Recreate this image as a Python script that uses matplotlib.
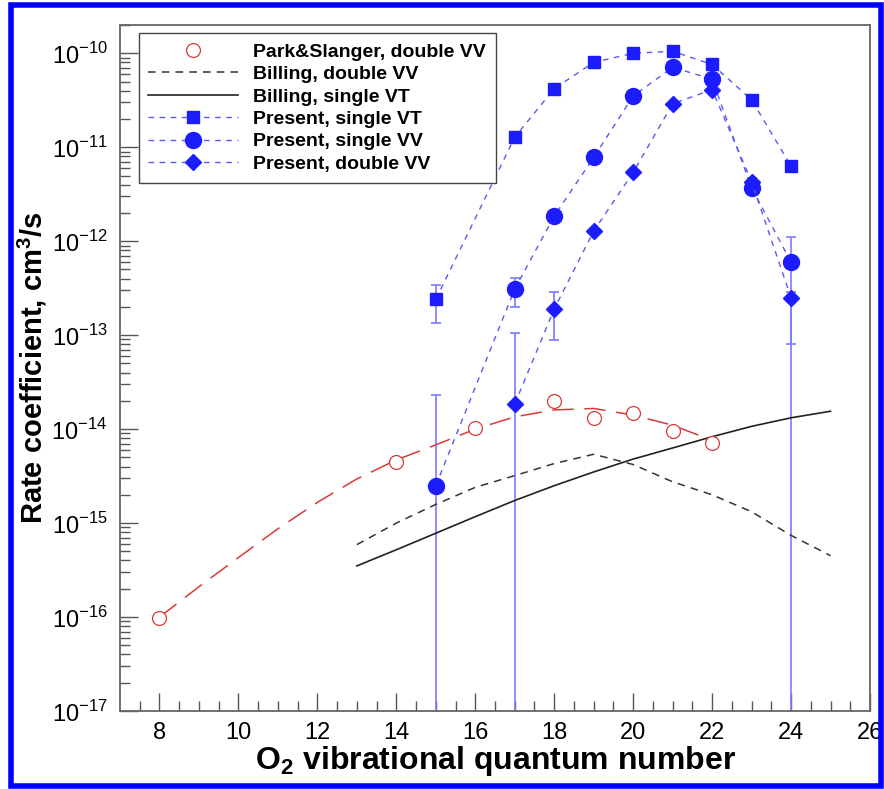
import numpy as np
import matplotlib
matplotlib.use('Agg')
import matplotlib.pyplot as plt
from matplotlib.ticker import FixedLocator, FuncFormatter, NullFormatter
from matplotlib.patches import Rectangle

plt.rcParams['font.family'] = ['Liberation Sans', 'DejaVu Sans']
plt.rcParams['mathtext.fontset'] = 'custom'
plt.rcParams['mathtext.rm'] = 'Liberation Sans'
plt.rcParams['mathtext.bf'] = 'Liberation Sans:bold'

# ---------------------------------------------------------------------------
# Data
# ---------------------------------------------------------------------------
ps_v = [8, 14, 16, 18, 19, 20, 21, 22]
ps_rate = [9.8e-17, 4.5e-15, 1.02e-14, 2.0e-14, 1.3e-14, 1.48e-14, 9.5e-15, 7.1e-15]

ps_fit_v = [8, 9, 10, 11, 12, 13, 14, 15, 16, 17, 18, 19, 20, 21, 22]
ps_fit = [1.0e-16, 2.1e-16, 4.3e-16, 8.7e-16, 1.66e-15, 2.95e-15, 4.7e-15,
          6.8e-15, 1.0e-14, 1.35e-14, 1.6e-14, 1.66e-14, 1.41e-14, 1.10e-14, 7.6e-15]

billing_v = [13, 14, 15, 16, 17, 18, 19, 20, 21, 22, 23, 24, 25]
billing_dvv = [5.9e-16, 1.0e-15, 1.58e-15, 2.4e-15, 3.2e-15, 4.3e-15, 5.4e-15,
               4.2e-15, 2.75e-15, 2.0e-15, 1.32e-15, 7.4e-16, 4.5e-16]
billing_svt = [3.5e-16, 5.2e-16, 7.8e-16, 1.17e-15, 1.74e-15, 2.5e-15, 3.5e-15,
               4.8e-15, 6.3e-15, 8.3e-15, 1.07e-14, 1.32e-14, 1.55e-14]

present_v = [15, 17, 18, 19, 20, 21, 22, 23, 24]
present_svt = [2.4e-13, 1.28e-11, 4.2e-11, 8.0e-11, 1.0e-10, 1.05e-10, 7.6e-11, 3.2e-11, 6.3e-12]
present_svv = [2.5e-15, 3.1e-13, 1.85e-12, 7.8e-12, 3.5e-11, 7.1e-11, 5.3e-11, 3.7e-12, 6.0e-13]

present_dvv_v = [17, 18, 19, 20, 21, 22, 23, 24]
present_dvv = [1.85e-14, 1.9e-13, 1.28e-12, 5.4e-12, 2.9e-11, 4.1e-11, 4.3e-12, 2.5e-13]

# error bars: (v, value, low, high); low=1e-19 means "off scale"
svt_err_v, svt_err_val, svt_err_lo, svt_err_hi = [15], [2.4e-13], [1.35e-13], [3.4e-13]
svv_err_v = [15, 17, 23, 24]
svv_err_val = [2.5e-15, 3.1e-13, 3.7e-12, 6.0e-13]
svv_err_lo = [1e-19, 2.0e-13, 3.3e-12, 8.1e-14]
svv_err_hi = [2.3e-14, 4.1e-13, 4.3e-12, 1.12e-12]
dvv_err_v = [17, 18, 23, 24]
dvv_err_val = [1.85e-14, 1.9e-13, 4.3e-12, 2.5e-13]
dvv_err_lo = [1e-19, 8.9e-14, 3.9e-12, 1e-19]
dvv_err_hi = [1.05e-13, 2.9e-13, 4.7e-12, 2.9e-13]

x_ticks = [8, 10, 12, 14, 16, 18, 20, 22, 24, 26]
y_exponents = [-17, -16, -15, -14, -13, -12, -11, -10]

# ---------------------------------------------------------------------------
# Plot
# ---------------------------------------------------------------------------
W, H = 884, 789
fig = plt.figure(figsize=(W / 100, H / 100), dpi=100)
ax = fig.add_axes([120 / W, 1 - 711 / H, 750 / W, 686 / H])
ax.set_yscale('log')

blue = '#1c1cff'
blue_line = '#5a5af0'
blue_err = '#7a7aff'
red = '#d83a3a'

def errbars(v, val, lo, hi):
    val = np.array(val)
    yerr = [val - np.array(lo), np.array(hi) - val]
    ax.errorbar(v, val, yerr=yerr, fmt='none', ecolor=blue_err,
                elinewidth=1.2, capsize=3.8, capthick=1.2, zorder=2)

errbars(svt_err_v, svt_err_val, svt_err_lo, svt_err_hi)
errbars(svv_err_v, svv_err_val, svv_err_lo, svv_err_hi)
errbars(dvv_err_v, dvv_err_val, dvv_err_lo, dvv_err_hi)

ax.plot(ps_fit_v, ps_fit, color=red, lw=1.1, dashes=(14, 7), zorder=3)
ax.plot(ps_v, ps_rate, ls='none', marker='o', ms=10, mfc='white', mec=red,
        mew=0.9, label='Park&Slanger, double VV', zorder=4)
ax.plot(billing_v, billing_dvv, color='#333333', lw=1.1, dashes=(5, 4),
        label='Billing, double VV', zorder=3)
ax.plot(billing_v, billing_svt, color='#222222', lw=1.2, ls='-',
        label='Billing, single VT', zorder=3)
ax.plot(present_v, present_svt, color=blue_line, lw=1.0, dashes=(4, 4),
        marker='s', ms=9, mfc=blue, mec=blue, label='Present, single VT', zorder=5)
ax.plot(present_v, present_svv, color=blue_line, lw=1.0, dashes=(4, 4),
        marker='o', ms=11.5, mfc=blue, mec=blue, label='Present, single VV', zorder=5)
ax.plot(present_dvv_v, present_dvv, color=blue_line, lw=1.0, dashes=(4, 4),
        marker='D', ms=8.5, mfc=blue, mec=blue, label='Present, double VV', zorder=5)

ax.set_xlim(7, 26)
ax.set_ylim(1e-17, 2e-10)

ax.xaxis.set_major_locator(FixedLocator(x_ticks))
ax.xaxis.set_minor_locator(FixedLocator(np.arange(7.5, 26, 0.5)))
y_major = [10.0 ** e for e in y_exponents]
y_minor = [m * 10.0 ** e for e in y_exponents for m in range(2, 10)
           if m * 10.0 ** e <= 2e-10]
ax.yaxis.set_major_locator(FixedLocator(y_major))
ax.yaxis.set_minor_locator(FixedLocator(y_minor))
ax.yaxis.set_minor_formatter(NullFormatter())
ax.yaxis.set_major_formatter(
    FuncFormatter(lambda v, p: r'$10^{%d}$' % int(round(np.log10(v)))))

ax.tick_params(which='both', direction='in', top=False, right=False,
               color='#555555', width=1.0, labelsize=17)
ax.tick_params(which='major', length=13, pad=8)
ax.tick_params(axis='y', which='major', pad=9)
ax.tick_params(which='minor', length=7.5)
for s in ax.spines.values():
    s.set_color('#666666')
    s.set_linewidth(1.3)

ax.set_xlabel(r'O$_\mathbf{2}$ vibrational quantum number', fontsize=23,
              fontweight='bold', labelpad=0)
ax.set_ylabel(r'Rate coefficient, cm$^\mathbf{3}$/s', fontsize=21,
              fontweight='bold')
ax.yaxis.set_label_coords(-0.094, 0.5)

leg = ax.legend(loc='upper left', bbox_to_anchor=(0.025, 0.988),
                prop={'weight': 'bold', 'size': 14}, numpoints=1,
                handlelength=4.6, handletextpad=0.8, labelspacing=0.25,
                borderpad=0.5, fancybox=False, framealpha=1,
                edgecolor='#444444', borderaxespad=0)
leg.get_frame().set_linewidth(1.0)

# blue frame around the whole figure
fig.patches.append(Rectangle((10.5 / W, 1 - 786 / H), 870 / W, 781 / H,
                             transform=fig.transFigure, fill=False,
                             edgecolor='#0000ff', lw=4))

fig.savefig('out.png', dpi=100)
